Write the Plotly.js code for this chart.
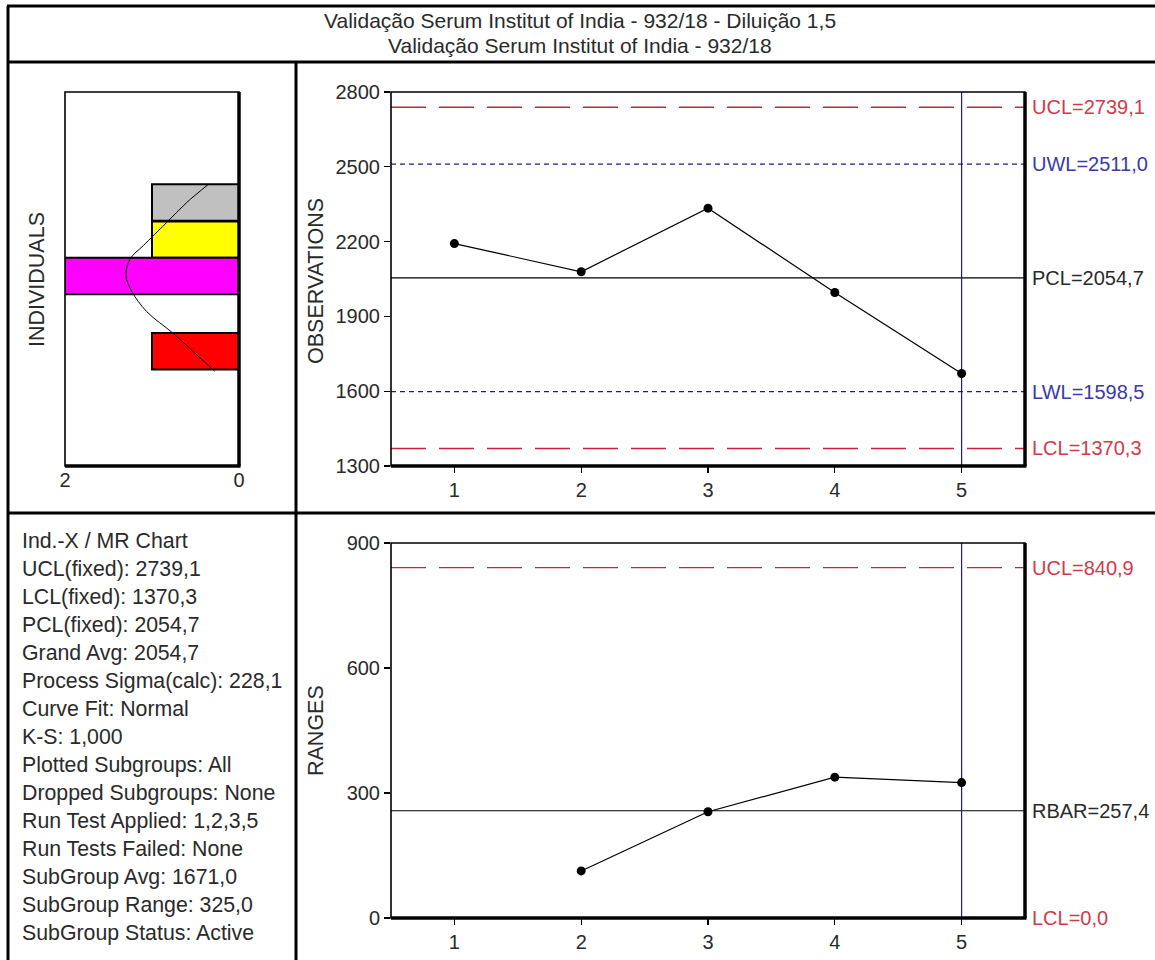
<!DOCTYPE html>
<html>
<head>
<meta charset="utf-8">
<script src="https://cdn.plot.ly/plotly-3.0.1.min.js"></script>
<style>
  html, body { margin: 0; padding: 0; background: #ffffff; }
  #chart { width: 1155px; height: 960px; }
</style>
</head>
<body>
<div id="chart"></div>
<script>
// ---------------- DATA ----------------
const titleLines = [
  'Validação Serum Institut of India - 932/18 - Diluição 1,5',
  'Validação Serum Institut of India - 932/18'
];
const subgroups = [1, 2, 3, 4, 5];
const observations = [2192, 2079, 2334, 1996, 1671];
const movingRanges = [null, 113, 255, 338, 325];
const currentSubgroup = 5;

const obsLimitNames = ['UCL', 'UWL', 'PCL', 'LWL', 'LCL'];
const obsLimitValues = [2739.1, 2511.0, 2054.7, 1598.5, 1370.3];
const rangeLimitNames = ['UCL', 'RBAR', 'LCL'];
const rangeLimitValues = [840.9, 257.4, 0.0];

const obsTicks = [1300, 1600, 1900, 2200, 2500, 2800];
const rangeTicks = [0, 300, 600, 900];
const histTicks = [2, 0];

const histBinCenters = [2357, 2208, 2062, 1760];
const histCounts = [1, 1, 2, 1];
const histBinWidth = 146;

const curveValues  = [2430, 2357, 2277, 2184, 2131, 2065, 1999, 1919, 1833, 1760, 1680];
const curveDensity = [0.35, 0.60, 0.83, 1.10, 1.25, 1.30, 1.23, 1.06, 0.76, 0.53, 0.28];

const statsLines = [
  'Ind.-X / MR Chart',
  'UCL(fixed): 2739,1',
  'LCL(fixed): 1370,3',
  'PCL(fixed): 2054,7',
  'Grand Avg: 2054,7',
  'Process Sigma(calc): 228,1',
  'Curve Fit: Normal',
  'K-S: 1,000',
  'Plotted Subgroups: All',
  'Dropped Subgroups: None',
  'Run Test Applied: 1,2,3,5',
  'Run Tests Failed: None',
  'SubGroup Avg: 1671,0',
  'SubGroup Range: 325,0',
  'SubGroup Status: Active'
];

// ---------------- STYLES ----------------
const W = 1155, H = 960;
const px = x => x / W;
const py = y => 1 - y / H;
const FONT = 'Liberation Sans, Arial, sans-serif';
const RED = '#d0203a';
const REDTXT = '#d23a4a';
const NAVY = '#1c1c8a';
const BLUETXT = '#3a3aa8';
const TXT = '#2a2a2a';
const barColors = ['#c0c0c0', '#ffff00', '#ff00ff', '#ff0000'];

const limitStyle = {
  UCL:  {color: RED,  dash: '35px,13px', width: 1.4, text: REDTXT},
  LCL:  {color: RED,  dash: '35px,13px', width: 1.4, text: REDTXT},
  UWL:  {color: NAVY, dash: '5px,4px',   width: 1.3, text: BLUETXT},
  LWL:  {color: NAVY, dash: '5px,4px',   width: 1.3, text: BLUETXT},
  PCL:  {color: '#000', dash: 'solid',   width: 1.2, text: TXT},
  RBAR: {color: '#000', dash: 'solid',   width: 1.2, text: TXT}
};
const fmt = v => v.toFixed(1).replace('.', ',');

// plot frames (px)
const histBox = {x0: 65, x1: 239, y0: 92, y1: 466};
const topBox  = {x0: 391, x1: 1025, y0: 92, y1: 466};
const botBox  = {x0: 391, x1: 1025, y0: 543, y1: 918};
const xRange = [0.5, 5.5];

// ---------------- TRACES ----------------
const traces = [];
histBinCenters.forEach((c, i) => {
  traces.push({
    type: 'bar', orientation: 'h', xaxis: 'x', yaxis: 'y',
    y: [c], x: [histCounts[i]], width: [histBinWidth],
    marker: {color: barColors[i], line: {color: '#000', width: 2}},
    hoverinfo: 'skip', showlegend: false
  });
});
traces.push({
  type: 'scatter', mode: 'lines', xaxis: 'x', yaxis: 'y',
  x: curveDensity, y: curveValues,
  line: {color: '#000', width: 1, shape: 'spline'},
  hoverinfo: 'skip', showlegend: false
});
traces.push({
  type: 'scatter', mode: 'lines+markers', xaxis: 'x2', yaxis: 'y2',
  x: subgroups, y: observations,
  line: {color: '#000', width: 1.2},
  marker: {color: '#000', size: 9},
  hoverinfo: 'skip', showlegend: false
});
traces.push({
  type: 'scatter', mode: 'lines+markers', xaxis: 'x3', yaxis: 'y3',
  x: subgroups, y: movingRanges,
  line: {color: '#000', width: 1.2},
  marker: {color: '#000', size: 9},
  connectgaps: false,
  hoverinfo: 'skip', showlegend: false
});

// ---------------- SHAPES ----------------
const shapes = [];
obsLimitNames.forEach((n, i) => {
  const s = limitStyle[n];
  shapes.push({type: 'line', xref: 'x2 domain', yref: 'y2', x0: 0, x1: 1,
    y0: obsLimitValues[i], y1: obsLimitValues[i], layer: 'below',
    line: {color: s.color, width: s.width, dash: s.dash}});
});
rangeLimitNames.forEach((n, i) => {
  const s = limitStyle[n];
  shapes.push({type: 'line', xref: 'x3 domain', yref: 'y3', x0: 0, x1: 1,
    y0: rangeLimitValues[i], y1: rangeLimitValues[i], layer: 'below',
    line: {color: s.color, width: s.width, dash: s.dash}});
});
['2', '3'].forEach(k => {
  shapes.push({type: 'line', xref: 'x' + k, yref: 'y' + k + ' domain',
    x0: currentSubgroup, x1: currentSubgroup, y0: 0, y1: 1, layer: 'below',
    line: {color: NAVY, width: 1.2}});
});
function frame(b) {
  shapes.push({type: 'rect', xref: 'paper', yref: 'paper',
    x0: px(b.x0), x1: px(b.x1), y0: py(b.y1), y1: py(b.y0),
    line: {color: '#000', width: 1.6}});
  shapes.push({type: 'line', xref: 'paper', yref: 'paper',
    x0: px(b.x0), x1: px(b.x1 + 1.5), y0: py(b.y1), y1: py(b.y1),
    line: {color: '#000', width: 3.5}});
  shapes.push({type: 'line', xref: 'paper', yref: 'paper',
    x0: px(b.x1), x1: px(b.x1), y0: py(b.y1), y1: py(b.y0),
    line: {color: '#000', width: 3.5}});
}
frame(histBox); frame(topBox); frame(botBox);
const divider = (x0, y0, x1, y1) => shapes.push({type: 'line', xref: 'paper', yref: 'paper',
  x0: px(x0), x1: px(x1), y0: py(y0), y1: py(y1), line: {color: '#000', width: 3}});
divider(7, 6, 1155, 6);
divider(8, 6, 8, 960);
divider(7, 62, 1155, 62);
divider(296, 62, 296, 960);
divider(7, 513, 1155, 513);

// ---------------- ANNOTATIONS ----------------
const annotations = [];
titleLines.forEach((t, i) => annotations.push({
  text: t, xref: 'paper', yref: 'paper', x: px(580), y: py(20 + i * 25),
  xanchor: 'center', yanchor: 'middle', showarrow: false,
  font: {family: FONT, size: 21, color: TXT}
}));
obsLimitNames.forEach((n, i) => annotations.push({
  text: n + '=' + fmt(obsLimitValues[i]), xref: 'paper', yref: 'y2',
  x: px(1030), y: obsLimitValues[i], xanchor: 'left', yanchor: 'middle',
  showarrow: false, font: {family: FONT, size: 20, color: limitStyle[n].text}
}));
rangeLimitNames.forEach((n, i) => annotations.push({
  text: n + '=' + fmt(rangeLimitValues[i]), xref: 'paper', yref: 'y3',
  x: px(1030), y: rangeLimitValues[i], xanchor: 'left', yanchor: 'middle',
  showarrow: false, font: {family: FONT, size: 20, color: limitStyle[n].text}
}));
const axisTitle = (t, x, y) => annotations.push({
  text: t, xref: 'paper', yref: 'paper', x: px(x), y: py(y), textangle: -90,
  xanchor: 'center', yanchor: 'middle', showarrow: false,
  font: {family: FONT, size: 21.5, color: TXT}
});
axisTitle('INDIVIDUALS', 37, 280);
axisTitle('OBSERVATIONS', 316, 281);
axisTitle('RANGES', 316, 731);
statsLines.forEach((t, i) => annotations.push({
  text: t, xref: 'paper', yref: 'paper', x: px(20), y: py(541 + i * 28),
  xanchor: 'left', yanchor: 'middle', showarrow: false,
  font: {family: FONT, size: 21.3, color: TXT}
}));

// ---------------- AXES ----------------
const tickFont = {family: FONT, size: 20, color: TXT};
const baseAxis = {showgrid: false, zeroline: false, showline: false, fixedrange: true, tickfont: tickFont};
const tickStyle = {ticks: 'outside', ticklen: 6, tickcolor: '#000', tickwidth: 1.2};

const layout = {
  width: W, height: H,
  margin: {l: 0, r: 0, t: 0, b: 0},
  paper_bgcolor: '#fff', plot_bgcolor: '#fff',
  showlegend: false, bargap: 0,
  xaxis: Object.assign({}, baseAxis, {
    domain: [px(histBox.x0), px(histBox.x1)], range: [2, 0],
    tickvals: histTicks, ticks: '', anchor: 'y'
  }),
  yaxis: Object.assign({}, baseAxis, {
    domain: [py(histBox.y1), py(histBox.y0)], range: [1300, 2800],
    showticklabels: false, ticks: '', anchor: 'x'
  }),
  xaxis2: Object.assign({}, baseAxis, tickStyle, {
    domain: [px(topBox.x0), px(topBox.x1)], range: xRange,
    tickvals: subgroups, anchor: 'y2'
  }),
  yaxis2: Object.assign({}, baseAxis, tickStyle, {
    domain: [py(topBox.y1), py(topBox.y0)], range: [1300, 2800],
    tickvals: obsTicks, anchor: 'x2'
  }),
  xaxis3: Object.assign({}, baseAxis, tickStyle, {
    domain: [px(botBox.x0), px(botBox.x1)], range: xRange,
    tickvals: subgroups, anchor: 'y3'
  }),
  yaxis3: Object.assign({}, baseAxis, tickStyle, {
    domain: [py(botBox.y1), py(botBox.y0)], range: [0, 900],
    tickvals: rangeTicks, anchor: 'x3'
  }),
  shapes: shapes,
  annotations: annotations
};

Plotly.newPlot('chart', traces, layout, {staticPlot: true, displayModeBar: false});
</script>
</body>
</html>
